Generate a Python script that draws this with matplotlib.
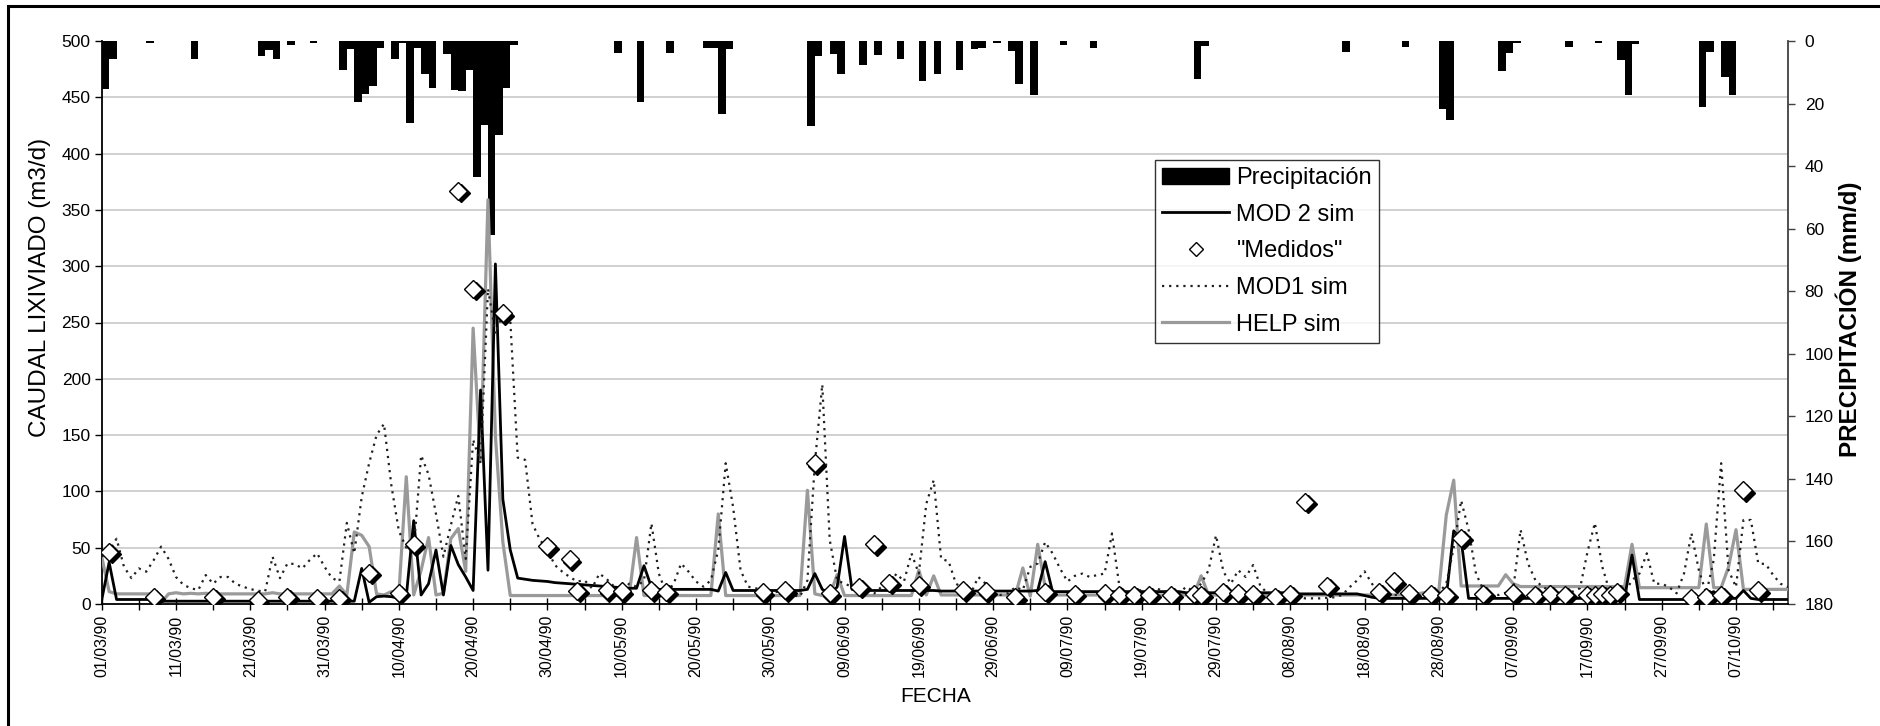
import matplotlib
matplotlib.use('Agg')
import matplotlib.pyplot as plt
import matplotlib.transforms as mtransforms
import numpy as np
import pandas as pd
from matplotlib.lines import Line2D
from matplotlib.patches import Patch, Rectangle
from matplotlib.ticker import MultipleLocator

plt.rcParams['font.family'] = ['Liberation Sans', 'DejaVu Sans']

# daily series from 01/03/90 (day 0) to 14/10/90 (day 227)
start_date = '1990-03-01'
n_days = 228

mod2_sim = [
    3.5, 37, 4, 4, 4, 4, 4, 4, 2.5, 2.5,
    2.5, 2.5, 2.5, 2.5, 2.5, 2.5, 2.5, 2.5, 2.5, 2.5,
    2.5, 2.5, 2.5, 2.5, 2.5, 2.5, 2.5, 2.5, 2.5, 2.5,
    2.5, 2.5, 2.5, 2.5, 2.5, 31.6, 1.5, 6.5, 7, 6.5,
    5, 6.5, 74, 8, 18, 48, 8, 52, 35, 24,
    12, 190, 30, 302, 93, 48, 23, 22, 21, 20.5,
    20, 19, 18.5, 18, 17.5, 17, 16.5, 16, 15.5, 15,
    14.5, 14, 14, 34, 15, 13, 13, 13, 13, 13,
    13, 13, 13, 11.5, 28, 12, 12, 12, 12, 12,
    12, 12, 12, 12, 12, 13, 27, 13, 9.5, 15,
    60, 13, 12, 12, 12, 12, 12, 12, 12, 12,
    12, 12, 12, 11.5, 11.5, 11.5, 11.5, 11.5, 11.5, 11.5,
    11.5, 11.5, 11.5, 11.5, 11.5, 11.5, 12, 37.6, 11, 11,
    11, 11, 11, 11, 11, 11, 11, 11, 11, 11,
    11, 11, 11, 11, 11, 11, 10, 10, 10, 10,
    10, 10, 10, 10, 10, 10, 10, 10, 10, 10,
    10, 9, 9, 9, 9, 9, 9, 9, 9, 9,
    7.5, 6, 5, 5, 5, 5, 5, 5, 5, 5,
    5, 6.5, 65, 57, 5, 5, 5, 5, 5, 5,
    5, 5, 5, 5, 5, 5, 5, 5, 5, 5,
    5, 5, 5, 5, 5, 5, 43.5, 4, 4, 4,
    4, 4, 4, 4, 4, 4, 8, 11, 5, 5,
    5, 12, 5, 4, 4, 4, 4, 4,
]

help_sim = [
    42, 11, 9, 9, 9, 9, 9, 9, 1, 9,
    10, 9, 9.5, 9, 9.5, 9, 9, 9, 9, 9,
    9, 9, 9, 10, 9, 9, 9, 9, 9, 9,
    9, 9, 16, 8, 64, 61, 51, 9, 8, 11,
    9, 113, 8, 30, 59, 8, 9.5, 58, 67, 29,
    245, 127, 359, 149, 55, 7.5, 7.5, 7.5, 7.5, 7.5,
    7.5, 7.5, 7.5, 7.5, 7.5, 7.5, 7.5, 7.5, 7.5, 7.5,
    7.5, 7.5, 59, 7.5, 7.5, 7.5, 7.5, 7.5, 7.5, 7.5,
    7.5, 7.5, 7.5, 80, 7.5, 7.5, 7.5, 7.5, 7.5, 7.5,
    7.5, 7.5, 7.5, 7.5, 7.5, 101, 9, 7.5, 7.5, 26,
    7.5, 7.5, 7.5, 7.5, 7.5, 7.5, 7.5, 7.5, 7.5, 7.5,
    30, 8, 25, 8, 8, 8, 8, 8, 8, 8,
    8, 8, 8, 8, 32, 7, 53, 15, 8, 8,
    8, 8, 8, 8, 8, 8, 8, 8, 8, 8,
    8, 8, 8, 8, 8, 8, 8, 8, 25, 8,
    8, 8, 8, 8, 8, 8, 8, 8, 8, 8,
    8, 8, 8, 8, 8, 8, 8, 8, 8, 8,
    8, 8, 8, 8, 8, 8, 8, 9, 10, 11,
    12, 79, 110, 16, 16, 16, 16, 16, 16, 26,
    18, 15.5, 15.5, 15.5, 15.5, 15.5, 15.5, 15.5, 15.5, 15.5,
    15.5, 15.5, 15.5, 15.5, 15.5, 15.5, 53, 14.5, 14.5, 14.5,
    14.5, 14.5, 14.5, 14.5, 14.5, 14.5, 71, 14.5, 14.5, 33,
    66, 13, 13, 13, 13, 13, 13, 13,
]

mod1_sim = [
    42, 48, 58, 33, 23, 31.6, 28.7, 39, 51, 40,
    24, 17, 14, 12.4, 25.7, 18, 24, 24, 18, 15.4,
    13.3, 11.8, 11, 42, 23, 36, 35.5, 31.6, 39, 45,
    33, 23, 20, 72, 45, 95, 125, 150, 160, 105,
    65, 50, 48, 132, 115, 80, 42, 70, 96, 40,
    146, 125, 280, 240, 258, 252, 130, 128, 71, 57,
    48, 34.6, 28.7, 24, 20, 21, 14, 27, 22, 15.4,
    11, 18, 15.4, 21, 71.6, 27, 9.5, 18, 36, 28.7,
    20, 15.4, 21, 48, 125, 86, 30, 15.4, 14, 12.4,
    9.5, 11, 12.4, 8, 6.5, 21, 125, 195, 57, 21,
    18, 15.4, 14, 12.4, 9.5, 15.4, 18, 27, 20, 45,
    27, 89, 110, 40, 38, 18, 14, 9.5, 24, 18,
    9.5, 8, 9.5, 15, 12.4, 33, 36, 55, 45, 31.6,
    20, 25, 27, 24, 25.7, 27, 62.7, 15.4, 9.5, 11,
    12.4, 9.5, 14, 11, 12.4, 9.5, 15.4, 11, 18, 30,
    61, 28.7, 18, 30, 24, 34.6, 15.4, 9.5, 8, 8,
    8, 6.5, 5, 5, 5, 5.5, 6, 8, 15, 21,
    29, 18, 9, 8, 8, 8, 8, 8, 8, 8,
    10, 18, 50, 92, 66, 27, 12.4, 8, 8, 10,
    12.4, 66, 36, 21, 15, 12, 10, 9.5, 11, 14,
    46, 72, 33, 11, 9.5, 10, 21, 27, 45, 18,
    18, 15, 9.5, 27, 63, 30, 9.5, 39, 125, 30,
    15, 74.6, 74.6, 36, 35.5, 25.7, 18, 15,
]

# "Medidos" (measured) points: day index and flow
medidos_day = [1, 7, 15, 21, 25, 29, 32, 36, 40, 42, 48, 50, 54, 60, 63, 64, 68, 70,
               74, 76, 89, 92, 96, 98, 102, 104, 106, 110, 116, 119, 123, 127, 131,
               135, 137, 139, 141, 144, 147, 148, 151, 153, 155, 158, 160, 162, 165,
               172, 174, 176, 179, 181, 183, 186, 190, 193, 195, 197, 200, 201, 202,
               203, 204, 214, 216, 218, 221, 223]
medidos_val = [46.4, 6.5, 6.5, 3.5, 6.5, 5, 5.6, 27.8, 10, 53, 367, 280, 258, 51.5,
               39.6, 11.8, 12.4, 11.5, 12.4, 11, 10.4, 12.4, 125, 9.5, 15.4, 53, 19,
               17, 12.4, 11.5, 6, 11, 9, 9.5, 8, 8, 8, 8, 9, 8, 11, 9.5, 8.6, 6.5, 9,
               91, 16, 11, 20.4, 9.5, 9, 8, 59, 9, 9.5, 8, 9, 8, 8, 8, 9, 8, 11, 5,
               6.5, 8, 101, 12.4]

# daily rain (mm/d), only days with rain
precip_day = [0, 1, 6, 12, 21, 22, 23, 25, 28, 32, 33, 34, 35, 36, 37, 39, 40, 41, 42,
              43, 44, 46, 47, 48, 49, 50, 51, 52, 53, 54, 55, 69, 72, 76, 81, 82, 83,
              84, 95, 96, 98, 99, 102, 104, 107, 110, 112, 115, 117, 118, 120, 122,
              123, 125, 129, 133, 147, 148, 167, 175, 180, 181, 188, 189, 190, 197,
              201, 204, 205, 206, 215, 216, 218, 219]
precip_mm = [15.3, 5.6, 0.5, 5.6, 4.7, 2.8, 5.6, 1.4, 0.5, 9.2, 2.4, 19.5, 17.1, 14.4,
             2.1, 5.8, 0.7, 26.2, 2.3, 10.4, 14.9, 4.2, 15.7, 16.1, 9.2, 43.5, 26.8,
             62, 30.2, 14.9, 1.4, 3.9, 19.5, 3.9, 2.3, 2.2, 23.4, 2.7, 27.3, 4.9, 4.3,
             10.6, 7.6, 4.5, 5.6, 12.9, 10.6, 9.2, 2.6, 2.3, 0.5, 3.2, 13.7, 17.2,
             1.4, 2.1, 12.1, 1.6, 3.6, 1.8, 21.8, 25.4, 9.5, 3.7, 0.5, 1.8, 0.5, 6,
             17.2, 1.1, 21.2, 3.4, 11.4, 17.2]

days = np.arange(n_days)
dates = pd.date_range(start_date, periods=n_days, freq='D')

W, H = 1881, 726
fig = plt.figure(figsize=(W / 100, H / 100), dpi=100)
ax = fig.add_axes([101.7 / W, 1 - 604 / H, (1788 - 101.7) / W, (604 - 41) / H])
ax2 = ax.twinx()
# lines over the bars
ax.set_zorder(ax2.get_zorder() + 1)
ax.patch.set_visible(False)

# precipitation hanging from the top, on inverted right axis
ax2.bar(precip_day, precip_mm, width=1.0, align='edge', color='black', linewidth=0, zorder=2)
ax2.set_ylim(180, 0)
ax2.set_yticks(np.arange(0, 181, 20))
# gridlines of the left axis (every 50 m3/d = 18 mm/d)
ax2.yaxis.set_minor_locator(MultipleLocator(18))
ax2.grid(which='minor', axis='y', color='#c4c4c4', linewidth=1.1, zorder=0)
ax2.set_axisbelow(True)
ax2.tick_params(axis='y', which='minor', length=0)
ax2.tick_params(axis='y', which='major', direction='out', length=5, width=1,
                color='#404040', labelsize=12.5, pad=7)
for s in ['top', 'left', 'bottom']:
    ax2.spines[s].set_visible(False)
ax2.spines['right'].set_color('#404040')
ax2.spines['right'].set_linewidth(1.3)

# simulated series and measured points
ax.plot(days, help_sim, color='#9a9a9a', linewidth=2.3, zorder=3)
ax.plot(days, mod2_sim, color='black', linewidth=2.0, zorder=4)
ax.plot(days, mod1_sim, color='#202020', linewidth=1.6, linestyle=(0, (1, 2.2)), zorder=5)
shadow = mtransforms.offset_copy(ax.transData, fig=fig, x=2.5, y=-2.5, units='dots')
ax.plot(medidos_day, medidos_val, linestyle='none', marker='D', markersize=9,
        markerfacecolor='black', markeredgecolor='black', transform=shadow, zorder=6)
ax.plot(medidos_day, medidos_val, linestyle='none', marker='D', markersize=9,
        markerfacecolor='white', markeredgecolor='black', markeredgewidth=1, zorder=7)

ax.set_ylim(0, 500)
ax.set_yticks(np.arange(0, 501, 50))
ax.set_xlim(0, n_days - 1)
tick_days = np.arange(0, n_days, 5)
ax.set_xticks(tick_days)
ax.set_xticklabels([dates[d].strftime('%d/%m/%y') if d % 10 == 0 else '' for d in tick_days],
                   rotation=90)
ax.tick_params(axis='x', direction='inout', length=9, width=1, labelsize=11.5, pad=3)
ax.tick_params(axis='y', direction='out', length=5, width=1, labelsize=12.5, pad=3)
ax.spines['top'].set_visible(False)
ax.spines['right'].set_visible(False)
ax.spines['left'].set_linewidth(1.3)
ax.spines['bottom'].set_linewidth(1.3)

fig.text(40 / W, 1 - 287 / H, 'CAUDAL LIXIVIADO (m3/d)', rotation=90, fontsize=17.5,
         ha='center', va='center')
fig.text(1849 / W, 1 - 319 / H, 'PRECIPITACIÓN (mm/d)', rotation=90, fontsize=17.5,
         fontweight='bold', ha='center', va='center')
fig.text(936 / W, 1 - 696 / H, 'FECHA', fontsize=15, ha='center', va='center')

handles = [
    Patch(facecolor='black', edgecolor='black'),
    Line2D([], [], color='black', linewidth=2.0),
    Line2D([], [], linestyle='none', marker='D', markersize=7, markerfacecolor='white',
           markeredgecolor='black', markeredgewidth=1),
    Line2D([], [], color='#202020', linewidth=1.6, linestyle=(0, (1, 2.2))),
    Line2D([], [], color='#9a9a9a', linewidth=2.3),
]
labels = ['Precipitación', 'MOD 2 sim', '"Medidos"', 'MOD1 sim', 'HELP sim']
leg = ax.legend(handles, labels, loc='upper left', bbox_to_anchor=(1155 / W, 1 - 160 / H),
                bbox_transform=fig.transFigure, borderaxespad=0, fontsize=17,
                frameon=True, fancybox=False, handlelength=2.85, handletextpad=0.3,
                labelspacing=0.62, borderpad=0.3)
leg.get_frame().set_edgecolor('black')
leg.get_frame().set_linewidth(1.0)

# outer chart border (cut on the right and bottom)
fig.patches.append(Rectangle((8.5 / W, -0.05), 1.5, 1.05 - 6 / H, transform=fig.transFigure,
                             fill=False, edgecolor='black', linewidth=2.2))

fig.savefig('out.png', dpi=100)
